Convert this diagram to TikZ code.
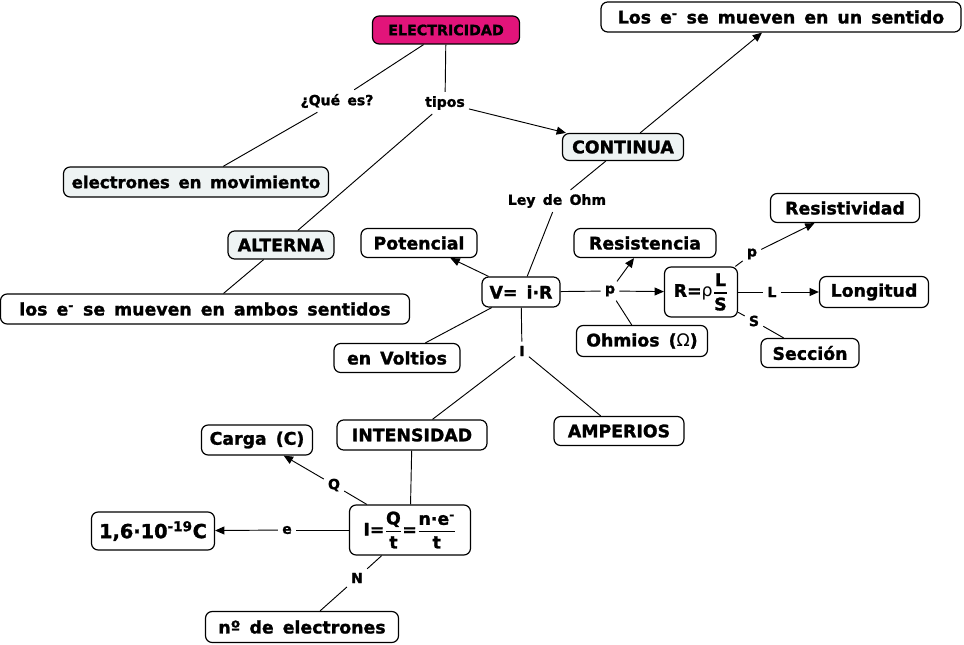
\documentclass[tikz,border=0pt]{standalone}
\usepackage{amsmath}
\usepackage{fontspec}
\setmainfont[WordSpace=1.5,BoldFeatures={FakeBold=1.4}]{DejaVu Sans}
\usetikzlibrary{arrows.meta}
\definecolor{elecpink}{RGB}{226,20,122}
\definecolor{pale}{RGB}{238,243,243}
\tikzset{
 box/.style={draw, rounded corners=5pt, line width=0.9pt, fill=white, font=\bfseries\fontsize{13}{15}\selectfont, inner sep=0pt, align=center},
 sz/.style 2 args={minimum width=#1*0.75pt, minimum height=#2*0.75pt},
 lab/.style={font=\bfseries\fontsize{10.5}{12}\selectfont, inner sep=3pt},
 con/.style={line width=0.7pt},
 arr/.style={con, -{Triangle[length=7pt,width=6pt]}}}
\begin{document}
\begin{tikzpicture}[x=0.75pt,y=-0.75pt]
\useasboundingbox (0,0) rectangle (964,645);
\node[box, fill=elecpink, sz={147}{28}, font=\bfseries\fontsize{10.7}{12}\selectfont] (elec) at (446,30) {ELECTRICIDAD};
\node[box, sz={360}{30}] (sentido) at (781,17) {Los e\textsuperscript{-} se mueven en un sentido};
\node[lab] (que) at (337,101) {¿Qué es?};
\node[lab] (tipos) at (445,103) {tipos};
\node[box, fill=pale, sz={121}{27}] (cont) at (623,147) {CONTINUA};
\node[box, fill=pale, sz={265}{30}, font=\bfseries\fontsize{12.4}{15}\selectfont] (elmov) at (196,182) {electrones en movimiento};
\node[lab] (ohm) at (557,201) {Ley de Ohm};
\node[box, sz={149}{29}] (resv) at (845,208) {Resistividad};
\node[box, fill=pale, sz={106}{28}] (alt) at (281,245) {ALTERNA};
\node[box, sz={116}{29}] (pot) at (419,243) {Potencial};
\node[box, sz={142}{29}] (res) at (645,243) {Resistencia};
\node[box, sz={73}{50}] (rform) at (701,292) {R={\mdseries ρ}$\genfrac{}{}{1pt}{0}{\text{L}}{\text{S}}$};
\node[lab] (p2) at (752,254) {p};
\node[lab] (Ll) at (772,292) {L};
\node[box, sz={109}{31}] (long) at (874,292) {Longitud};
\node[box, sz={409}{30}] (ambos) at (205,309) {los e\textsuperscript{-} se mueven en ambos sentidos};
\node[box, sz={78}{30}] (v) at (521,292) {V= i·R};
\node[lab] (p1) at (610,291) {p};
\node[lab] (Sl) at (754,321) {S};
\node[box, sz={131}{31}] (ohmios) at (642,341) {Ohmios ({\mdseries Ω})};
\node[box, sz={98}{29}] (secc) at (810,353) {Sección};
\node[box, sz={126}{29}] (volt) at (397,358) {en Voltios};
\node[lab] (Il) at (522,351) {I};
\node[box, sz={130}{29}] (amp) at (619,431) {AMPERIOS};
\node[box, sz={150}{30}] (int) at (412,435) {INTENSIDAD};
\node[box, sz={111}{30}] (carga) at (257,440) {Carga (C)};
\node[lab] (Ql) at (334,485) {Q};
\node[box, sz={121}{50}] (iform) at (410,530) {I=$\genfrac{}{}{1pt}{0}{\text{Q}}{\text{t}}$=$\genfrac{}{}{1pt}{0}{\text{n·e\textsuperscript{-}}}{\text{t}}$};
\node[lab] (el) at (287,530) {e};
\node[box, sz={123}{38}, font=\bfseries\fontsize{14.5}{18}\selectfont] (carge) at (153,531) {1,6·10\textsuperscript{-19}C};
\node[lab] (Nl) at (357,578) {N};
\node[box, sz={193}{31}] (nde) at (302,627) {nº de electrones};
\draw[con] (elec) -- (que) -- (elmov);
\draw[con] (elec) -- (tipos);
\draw[arr] (tipos) -- (cont);
\draw[con] (tipos) -- (alt);
\draw[arr] (cont) -- (sentido);
\draw[con] (cont) -- (ohm) -- (v);
\draw[con] (alt) -- (ambos);
\draw[arr] (v) -- (pot);
\draw[con] (v) -- (volt);
\draw[con] (v) -- (p1);
\draw[arr] (p1) -- (rform);
\draw[arr] (p1) -- (res);
\draw[con] (p1) -- (ohmios);
\draw[con] (v) -- (Il) -- (int);
\draw[con] (Il) -- (amp);
\draw[con] (int) -- (iform);
\draw[con] (iform) -- (Ql);
\draw[arr] (Ql) -- (carga);
\draw[con] (iform) -- (el);
\draw[arr] (el) -- (carge);
\draw[con] (iform) -- (Nl) -- (nde);
\draw[con] (rform) -- (p2);
\draw[arr] (p2) -- (resv);
\draw[con] (rform) -- (Ll);
\draw[arr] (Ll) -- (long);
\draw[con] (rform) -- (Sl) -- (secc);
\end{tikzpicture}
\end{document}
